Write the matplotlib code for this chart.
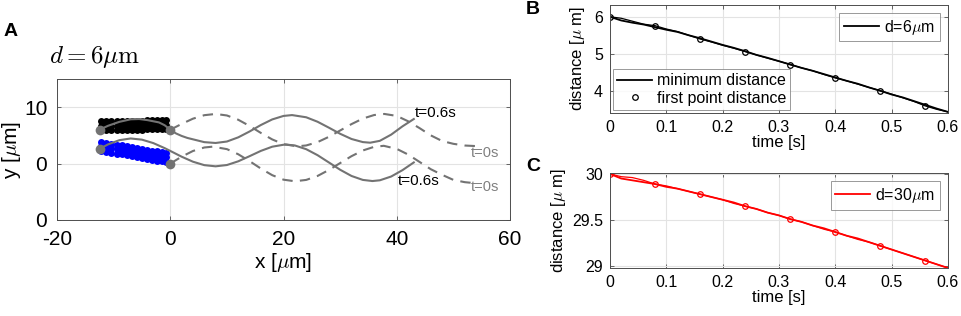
import matplotlib
matplotlib.use("Agg")
import matplotlib.pyplot as plt
from matplotlib.lines import Line2D

plt.rcParams['font.family'] = ['Liberation Sans', 'DejaVu Sans']
plt.rcParams['mathtext.fontset'] = 'cm'

# ---- panel A: swimmer trajectories ----
up_solid_x = [-12.5, -11, -9, -7, -5.5, -4, -2, -1, 0, 1, 2, 3, 4, 6, 8, 10, 12, 14, 16, 18, 20, 21.5,
              24, 26, 28, 30, 32, 34, 35.3, 37, 39, 41, 43]
up_solid_y = [6.0, 6.7, 7.4, 7.85, 7.9, 7.7, 7.3, 6.8, 6.0, 5.35, 4.9, 4.55, 4.3, 3.8, 3.65, 3.91, 4.65, 5.69, 6.84, 7.83, 8.45, 8.6,
              8.21, 7.42, 6.37, 5.28, 4.36, 3.81, 3.7, 4.03, 5.13, 6.6, 7.9]

up_dash_x = [0, 2, 4, 6, 8, 10, 12, 14, 16, 18, 20, 22.4, 24, 26, 28, 30, 32, 34, 36, 37.8,
             40, 42, 44, 46, 48, 50, 52, 54]
up_dash_y = [6.0, 7.03, 7.96, 8.58, 8.8, 8.53, 7.77, 6.67, 5.43, 4.28, 3.44, 3.06, 3.21, 3.8, 4.74, 5.87, 7.0, 7.98, 8.61, 8.8,
             8.45, 7.5, 6.3, 5.0, 4.0, 3.5, 3.2, 3.1]

lo_solid_x = [-12.5, -11, -9, -7, -5, -3, -1, 0, 2, 4, 6, 8, 10, 12, 14, 16, 18, 20, 20.5,
              22, 24, 26, 28, 30, 32, 34, 35.7, 37, 39, 41, 43]
lo_solid_y = [2.6, 3.4, 4.15, 4.45, 4.24, 3.63, 2.74, 2.24, 1.22, 0.33, -0.28, -0.49, -0.26, 0.4, 1.31, 2.25, 2.99, 3.34, 3.36,
              3.21, 2.55, 1.49, 0.2, -1.1, -2.2, -2.9, -3.1, -2.97, -2.3, -1.17, 0.2]

lo_dash_x = [0, 2, 4, 6, 7.5, 10, 12, 14, 16, 18, 20, 22, 24, 26, 28, 30, 32, 34, 36, 37.7,
             40, 42, 44, 46, 48, 50, 52, 54]
lo_dash_y = [0.0, 1.22, 2.23, 2.85, 3.0, 2.56, 1.65, 0.43, -0.89, -2.06, -2.86, -3.14, -2.9, -2.2, -1.14, 0.09, 1.31, 2.32, 2.97, 3.15,
             2.6, 1.6, 0.3, -1.0, -2.0, -2.9, -3.3, -3.5]

# swimmer bodies (dots along the body)
body_x = [-12.2, -11.3, -10.4, -9.5, -8.6, -7.7, -6.8, -5.9, -5.0, -4.1, -3.2, -2.3, -1.4, -0.8]
black_mid = [6.7, 6.72, 6.74, 6.75, 6.77, 6.78, 6.8, 6.82, 6.83, 6.85, 6.87, 6.88, 6.9, 6.9]
blue_mid = [3.05, 2.89, 2.74, 2.58, 2.43, 2.27, 2.12, 1.96, 1.81, 1.65, 1.5, 1.34, 1.19, 1.08]
band_offsets = [-0.8, 0, 0.8]

# end points of the two worms
end_x = [-12.5, 0, -12.5, 0]
end_y = [5.9, 6.0, 2.5, 0.0]

# ---- panels B, C ----
t = [0, .02, .04, .06, .08, .10, .12, .14, .16, .18, .20, .22, .24, .26, .28, .30,
     .32, .34, .36, .38, .40, .42, .44, .46, .48, .50, .52, .54, .56, .58, .60]
b_min = [6.00, 5.90, 5.84, 5.79, 5.72, 5.65, 5.59, 5.50, 5.42, 5.33, 5.24, 5.16, 5.07, 4.97, 4.89, 4.80,
         4.71, 4.62, 4.54, 4.45, 4.36, 4.27, 4.19, 4.09, 4.00, 3.90, 3.82, 3.72, 3.62, 3.52, 3.43]
b_first = [6.00, 5.96, 5.88, 5.80, 5.76, 5.67, 5.60, 5.50, 5.40, 5.32, 5.23, 5.15, 5.06, 4.97, 4.88, 4.80,
           4.71, 4.62, 4.54, 4.44, 4.35, 4.27, 4.18, 4.09, 4.00, 3.91, 3.81, 3.71, 3.59, 3.50, 3.43]
c_min = [30.00, 29.95, 29.93, 29.91, 29.89, 29.86, 29.84, 29.81, 29.78, 29.75, 29.72, 29.69, 29.65, 29.62, 29.58, 29.55,
         29.51, 29.48, 29.44, 29.41, 29.37, 29.33, 29.30, 29.26, 29.22, 29.18, 29.14, 29.10, 29.06, 29.02, 28.98]
c_first = [30.00, 29.97, 29.96, 29.93, 29.89, 29.87, 29.84, 29.81, 29.78, 29.75, 29.72, 29.68, 29.65, 29.62, 29.58, 29.55,
           29.51, 29.48, 29.44, 29.40, 29.37, 29.33, 29.29, 29.26, 29.22, 29.18, 29.14, 29.10, 29.06, 29.02, 28.98]
time_ticks = [0, 0.1, 0.2, 0.3, 0.4, 0.5, 0.6]
time_labels = ['0', '0.1', '0.2', '0.3', '0.4', '0.5', '0.6']

GRAY = '#737373'
SPINE = '#4d4d4d'
GRID = '#e3e3e3'


def style_axes(ax, size=11.5, pad=5):
    for s in ax.spines.values():
        s.set_color(SPINE)
        s.set_linewidth(0.7)
    ax.tick_params(direction='in', length=3, width=0.6, color=SPINE, labelsize=size,
                   top=True, right=True, pad=pad)
    ax.grid(True, color=GRID, linewidth=0.8)
    ax.set_axisbelow(True)


def legend_box(ax, handles, labels, loc, **kw):
    leg = ax.legend(handles, labels, loc=loc, fontsize=11.5, frameon=True, fancybox=False,
                    edgecolor='#808080', handlelength=2.2, handletextpad=0.3, **kw)
    leg.get_frame().set_linewidth(0.7)
    return leg


fig = plt.figure(figsize=(9.62, 3.16), dpi=100)

# panel A
axA = fig.add_axes([0.0593, 0.304, 0.4709, 0.446])
style_axes(axA, size=15, pad=7)
for off in band_offsets:
    axA.plot(body_x, [v + off for v in black_mid], 'o', color='black', ms=5, mec='none')
    axA.plot(body_x, [v + off for v in blue_mid], 'o', color='blue', ms=5, mec='none')
axA.plot(up_dash_x, up_dash_y, '--', color=GRAY, lw=1.5, dashes=(5, 3.5))
axA.plot(lo_dash_x, lo_dash_y, '--', color=GRAY, lw=1.5, dashes=(5, 3.5))
axA.plot(up_solid_x, up_solid_y, '-', color=GRAY, lw=1.5)
axA.plot(lo_solid_x, lo_solid_y, '-', color=GRAY, lw=1.5)
axA.plot(end_x, end_y, 'o', color=GRAY, ms=7, mec='none')
axA.text(43.2, 9.0, 't=0.6s', fontsize=11, color='black', va='center')
axA.text(40.2, -3.1, 't=0.6s', fontsize=11, color='black', va='center')
axA.text(53.0, 1.8, 't=0s', fontsize=10.5, color='#808080', va='center')
axA.text(53.0, -4.2, 't=0s', fontsize=10.5, color='#808080', va='center')
axA.set_xlim(-20, 60)
axA.set_ylim(-10, 15)
axA.set_xticks([-20, 0, 20, 40, 60])
axA.set_xticklabels(['-20', '0', '20', '40', '60'])
axA.set_yticks([-10, 0, 10])
axA.set_yticklabels(['0', '0', '10'])
axA.set_xlabel(r'x [$\mu$m]', fontsize=15, labelpad=2)
axA.set_ylabel(r'y [$\mu$m]', fontsize=15, labelpad=1)
fig.text(0.051, 0.80, r'$d = 6\mu\mathrm{m}$', fontsize=18)
fig.text(0.004, 0.899, 'A', fontsize=14, fontweight='bold', va='center')

# panel B
axB = fig.add_axes([0.634, 0.6424, 0.3514, 0.342])
style_axes(axB)
lb, = axB.plot(t, b_min, '-', color='black', lw=1.3)
axB.plot(t, b_first, '-', color='black', lw=0.9, marker='o', markevery=4, ms=4,
         mfc='none', mew=0.9)
axB.set_xlim(0, 0.6)
axB.set_ylim(3.40, 6.32)
axB.set_xticks(time_ticks)
axB.set_xticklabels(time_labels)
axB.set_yticks([4, 5, 6])
axB.set_xlabel('time [s]', fontsize=12, labelpad=0)
axB.set_ylabel(r'distance [$\mu$ m]', fontsize=12, labelpad=5)
legB1 = legend_box(axB, [lb], [r'd=6$\mu$m'], 'upper right', borderpad=0.3, borderaxespad=0.5)
axB.add_artist(legB1)
h1 = Line2D([], [], color='black', lw=1.3)
h2 = Line2D([], [], color='black', lw=0, marker='o', ms=4, mfc='none', mew=0.9)
legend_box(axB, [h1, h2], ['minimum distance', 'first point distance'], 'lower left',
           borderpad=0.25, labelspacing=0.15, borderaxespad=0.2)
fig.text(0.546, 0.970, 'B', fontsize=14, fontweight='bold', va='center')

# panel C
axC = fig.add_axes([0.634, 0.152, 0.3514, 0.3006])
style_axes(axC)
lc, = axC.plot(t, c_min, '-', color='red', lw=1.3)
axC.plot(t, c_first, '-', color='red', lw=0.9, marker='o', markevery=4, ms=4,
         mfc='none', mew=0.9)
axC.set_xlim(0, 0.6)
axC.set_ylim(28.98, 30.01)
axC.set_xticks(time_ticks)
axC.set_xticklabels(time_labels)
axC.set_yticks([29, 29.5, 30])
axC.set_yticklabels(['29', '29.5', '30'])
axC.set_xlabel('time [s]', fontsize=12, labelpad=0)
axC.set_ylabel(r'distance [$\mu$ m]', fontsize=12, labelpad=3)
legend_box(axC, [lc], [r'd=30$\mu$m'], 'upper right', borderpad=0.3, borderaxespad=0.5)
fig.text(0.547, 0.472, 'C', fontsize=14, fontweight='bold', va='center')

fig.savefig('out.png', dpi=100)
